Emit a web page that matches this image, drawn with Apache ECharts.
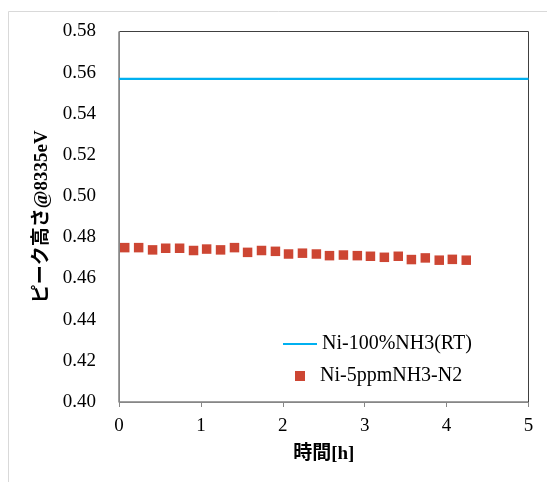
<!DOCTYPE html>
<html>
<head>
<meta charset="utf-8">
<script src="https://cdn.jsdelivr.net/npm/echarts@6/dist/echarts.min.js"></script>
<style>html,body{margin:0;padding:0;background:#fff;}#c{width:547px;height:482px;}</style>
</head>
<body>
<div id="c"></div>
<script>
// Data
const seriesNames = ['Ni-100%NH3(RT)', 'Ni-5ppmNH3-N2'];
const refLineX = [0, 5];
const refLineY = [0.557, 0.557];
const timeH = [0.07, 0.24, 0.41, 0.57, 0.74, 0.91, 1.07, 1.24, 1.41, 1.57, 1.74, 1.91, 2.07,
               2.24, 2.41, 2.57, 2.74, 2.91, 3.07, 3.24, 3.41, 3.57, 3.74, 3.91, 4.07, 4.24];
const peakHeight = [0.4750, 0.4750, 0.4739, 0.4747, 0.4747, 0.4736, 0.4743, 0.4739, 0.4750, 0.4727,
                    0.4736, 0.4732, 0.4719, 0.4723, 0.4719, 0.4711, 0.4714, 0.4711, 0.4708, 0.4703,
                    0.4708, 0.4692, 0.4700, 0.4689, 0.4693, 0.4689];
const xTitle = '時間[h]';
const yTitle = 'ピーク高さ@8335eV';

const serif = "'Liberation Serif', 'Noto Sans CJK JP', serif";
const chart = echarts.init(document.getElementById('c'), null, {renderer: 'canvas'});
chart.setOption({
  animation: false,
  backgroundColor: '#ffffff',
  graphic: [{
    type: 'rect', silent: true, z: -10,
    shape: {x: 8.5, y: 11.5, width: 700, height: 700},
    style: {fill: 'none', stroke: '#d9d9d9', lineWidth: 1}
  }],
  grid: {
    left: 119, right: 18.5, top: 31.5, bottom: 80,
    show: true, borderColor: '#404040', borderWidth: 1,
    containLabel: false, outerBoundsMode: 'none'
  },
  xAxis: {
    type: 'value', min: 0, max: 5, interval: 1,
    name: xTitle, nameLocation: 'middle', nameGap: 43,
    nameTextStyle: {fontFamily: serif, fontWeight: 'bold', fontSize: 19, color: '#000'},
    axisLine: {show: true, lineStyle: {color: '#868686', width: 1}},
    axisTick: {show: true, inside: false, length: 5, lineStyle: {color: '#868686'}},
    axisLabel: {fontFamily: serif, fontSize: 19, color: '#000', margin: 15},
    splitLine: {show: false}
  },
  yAxis: {
    type: 'value', min: 0.40, max: 0.58, interval: 0.02,
    name: yTitle, nameLocation: 'middle', nameGap: 58, nameRotate: 90,
    nameTextStyle: {fontFamily: serif, fontWeight: 'bold', fontSize: 19, color: '#000'},
    axisLine: {show: true, lineStyle: {color: '#868686', width: 1}},
    axisTick: {show: false},
    axisLabel: {fontFamily: serif, fontSize: 19, color: '#000', margin: 23,
      formatter: v => v.toFixed(2)},
    splitLine: {show: false}
  },
  legend: [{
    data: [{name: seriesNames[0], icon: 'rect'}], orient: 'vertical', left: 283, top: 334, padding: 0,
    itemWidth: 34, itemHeight: 2.2,
    textStyle: {fontFamily: serif, fontSize: 20, color: '#000'}
  }, {
    data: [{name: seriesNames[1], icon: 'rect'}], orient: 'vertical', left: 295, top: 366, padding: 0,
    itemWidth: 10, itemHeight: 10,
    textStyle: {fontFamily: serif, fontSize: 20, color: '#000', padding: [0, 0, 0, 10]}
  }],
  series: [{
    name: seriesNames[0], type: 'line', symbol: 'none',
    data: refLineX.map((x, i) => [x, refLineY[i]]),
    lineStyle: {color: '#00b0f0', width: 2.2}, itemStyle: {color: '#00b0f0'}, z: 3
  }, {
    name: seriesNames[1], type: 'scatter', symbol: 'rect', symbolSize: 9.5,
    data: timeH.map((t, i) => [t, peakHeight[i]]),
    itemStyle: {color: '#c01800'}, z: 4
  }]
});
</script>
</body>
</html>
